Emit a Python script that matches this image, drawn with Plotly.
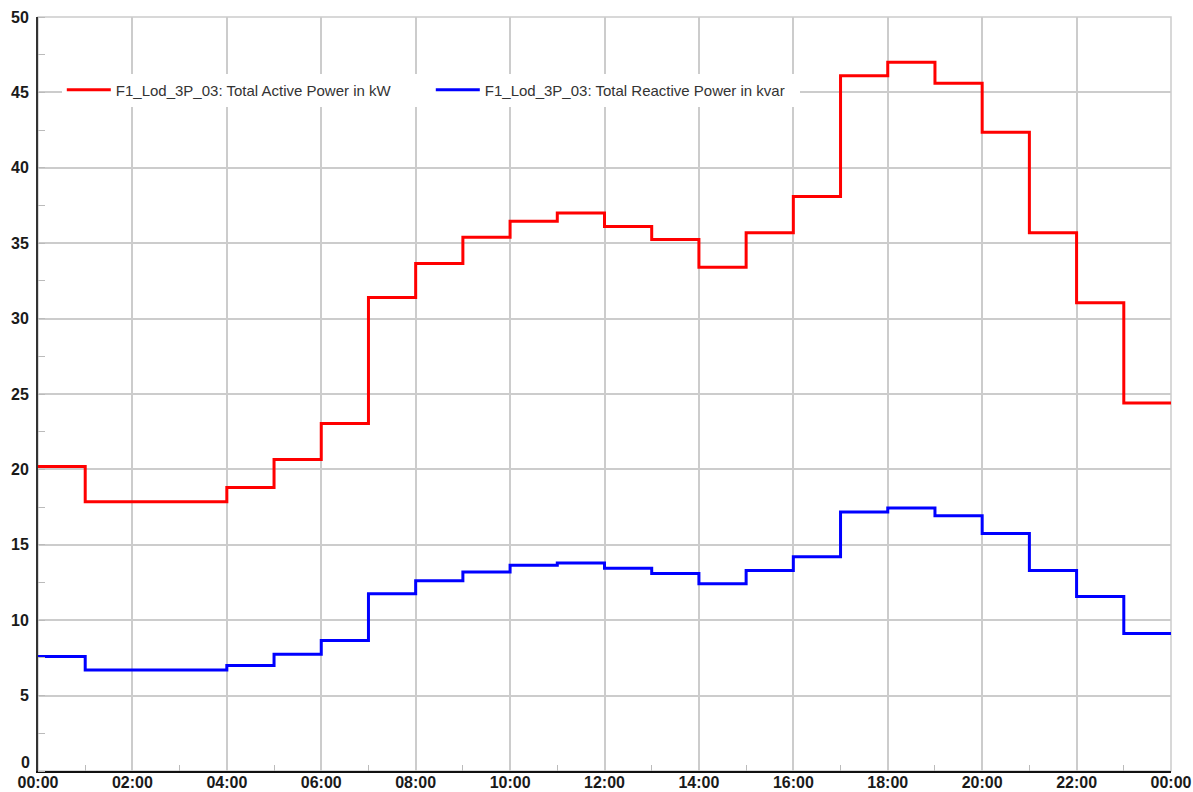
import pandas as pd
import plotly.graph_objects as go

# Hourly readings for one day (value holds for the hour that starts at each timestamp)
hours = list(range(0, 25))
active_kw = [20.2, 17.85, 17.85, 17.85, 18.8, 20.65, 23.05, 31.4, 33.65, 35.4, 36.45,
             37.0, 36.1, 35.25, 33.4, 35.7, 38.1, 46.1, 47.0, 45.6, 42.35, 35.7,
             31.05, 24.4]
reactive_kvar = [7.6, 6.7, 6.7, 6.7, 7.0, 7.75, 8.65, 11.75, 12.62, 13.2, 13.65,
                 13.8, 13.45, 13.1, 12.42, 13.3, 14.2, 17.18, 17.44, 16.93, 15.75,
                 13.3, 11.57, 9.12]
# the last level is held until midnight
active_kw = active_kw + [active_kw[-1]]
reactive_kvar = reactive_kvar + [reactive_kvar[-1]]

series_names = ["F1_Lod_3P_03: Total Active Power in kW",
                "F1_Lod_3P_03: Total Reactive Power in kvar"]
y_ticks = [0, 5, 10, 15, 20, 25, 30, 35, 40, 45, 50]
# the zero label is lifted clear of the time labels, so it is placed separately
y_ticktext = ["" if v == 0 else str(v) for v in y_ticks]

day0 = pd.Timestamp("2024-01-01 00:00")
times = [day0 + pd.Timedelta(hours=h) for h in hours]

fig = go.Figure()
fig.add_trace(go.Scatter(x=times, y=active_kw, name=series_names[0], mode="lines",
                         line=dict(color="#ff0000", width=3, shape="hv")))
fig.add_trace(go.Scatter(x=times, y=reactive_kvar, name=series_names[1], mode="lines",
                         line=dict(color="#0000ff", width=3, shape="hv")))

tick_font = dict(family="Liberation Sans, Arial, sans-serif", size=16, color="#1a1a1a",
                 weight="bold")

fig.update_xaxes(
    type="date",
    range=[times[0], times[-1]],
    dtick=2 * 3600 * 1000,
    tick0=day0,
    tickformat="%H:%M",
    showgrid=True, gridcolor="#cccccc", gridwidth=1.5,
    showline=True, linecolor="#111111", linewidth=2,
    ticks="", tickfont=tick_font, ticklabelstandoff=-4, automargin=False,
    minor=dict(dtick=3600 * 1000, ticks="inside", ticklen=6, tickcolor="#bbbbbb",
               tickwidth=1, showgrid=False),
    zeroline=False, fixedrange=True,
)
fig.update_yaxes(
    range=[0, 50],
    tickvals=y_ticks, ticktext=y_ticktext,
    showgrid=True, gridcolor="#cccccc", gridwidth=1.5,
    showline=True, linecolor="#333333", linewidth=2,
    ticks="", tickfont=tick_font, ticklabelstandoff=4, automargin=False,
    minor=dict(dtick=2.5, ticks="inside", ticklen=7, tickcolor="#bbbbbb",
               tickwidth=1, showgrid=False),
    zeroline=False, fixedrange=True,
)

fig.add_annotation(x=0, xref="paper", y=y_ticks[0], yref="y", text=str(y_ticks[0]),
                   showarrow=False, xanchor="right", yanchor="middle",
                   xshift=-6, yshift=9, font=tick_font)

# light frame on the top and right edges of the plotting area
fig.add_shape(type="rect", xref="paper", yref="paper", x0=0, y0=0, x1=1, y1=1,
              line=dict(color="#cccccc", width=1.5), layer="below")

fig.update_layout(
    width=1193, height=792,
    margin=dict(l=38, r=22, t=17, b=21, autoexpand=False),
    paper_bgcolor="white", plot_bgcolor="white",
    showlegend=True,
    legend=dict(orientation="h", x=0.021, y=0.925, xanchor="left", yanchor="top",
                bgcolor="white", borderwidth=0,
                font=dict(family="Liberation Sans, Arial, sans-serif", size=15,
                          color="#333333"),
                itemwidth=44, entrywidth=310, entrywidthmode="pixels"),
)

fig.write_html("out.html")
